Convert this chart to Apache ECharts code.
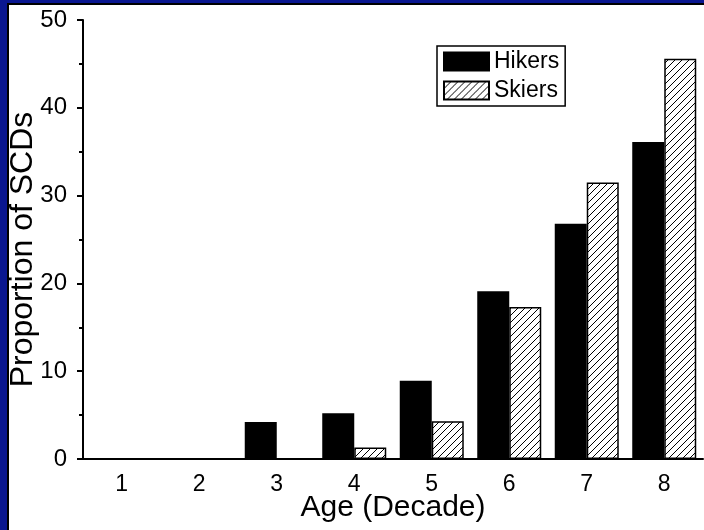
<!DOCTYPE html>
<html>
<head>
<meta charset="utf-8">
<script src="https://cdn.jsdelivr.net/npm/echarts@6/dist/echarts.min.js"></script>
<style>
html,body{margin:0;padding:0;width:704px;height:530px;overflow:hidden;background:#0a1790;}
#frame{position:absolute;left:7px;top:3px;width:697px;height:527px;background:#fff;border-top:2px solid #000;border-left:2px solid #000;box-sizing:border-box;}
#chart{position:absolute;left:0;top:0;width:704px;height:530px;}
</style>
</head>
<body>
<div id="frame"></div>
<div id="chart"></div>
<script>
const categories = ['1','2','3','4','5','6','7','8'];
const hikers = [0, 0, 4.2, 5.2, 8.9, 19.1, 26.8, 36.1];
const skiers = [0, 0, 0, 1.3, 4.3, 17.3, 31.5, 45.6];
const yTicks = [0, 10, 20, 30, 40, 50];

function hatch(){
  const c = document.createElement('canvas');
  const s = 7;
  c.width = s; c.height = s;
  const g = c.getContext('2d');
  g.fillStyle = '#fff'; g.fillRect(0,0,s,s);
  g.strokeStyle = '#000'; g.lineWidth = 1;
  g.beginPath();
  g.moveTo(-1, s+1); g.lineTo(s+1, -1);
  g.moveTo(-1, 1); g.lineTo(1, -1);
  g.moveTo(s-1, s+1); g.lineTo(s+1, s-1);
  g.stroke();
  return c;
}

const chart = echarts.init(document.getElementById('chart'));
const font = '"Liberation Sans", Arial, sans-serif';
chart.setOption({
  animation: false,
  grid: {left: 83, right: 1, top: 20, bottom: 71, containLabel: false, outerBoundsMode: 'none'},
  legend: {
    orient: 'vertical', left: 437, top: 46,
    padding: [4, 6, 4, 6], itemGap: 6,
    itemWidth: 45, itemHeight: 18,
    icon: 'rect',
    borderColor: '#000', borderWidth: 1.5,
    textStyle: {fontFamily: font, fontSize: 23, color: '#000'},
    data: ['Hikers', 'Skiers']
  },
  xAxis: [{
    type: 'category', data: categories, position: 'bottom',
    boundaryGap: true,
    name: 'Age (Decade)', nameLocation: 'middle', nameGap: 34, nameMoveOverlap: false,
    nameTextStyle: {fontFamily: font, fontSize: 30, color: '#000'},
    axisLine: {lineStyle: {color: '#000', width: 2}},
    axisTick: {alignWithLabel: true, length: 7, lineStyle: {color: '#000', width: 2}},
    axisLabel: {fontFamily: font, fontSize: 23, color: '#000', margin: 14}
  }, {
    type: 'category', data: categories, position: 'bottom',
    boundaryGap: true,
    axisLine: {show: false},
    axisTick: {alignWithLabel: false, length: 4, lineStyle: {color: '#000', width: 2}},
    axisLabel: {show: false}
  }],
  yAxis: {
    type: 'value', min: yTicks[0], max: yTicks[yTicks.length-1], interval: 10,
    name: 'Proportion of SCDs', nameLocation: 'middle', nameGap: 44, nameMoveOverlap: false,
    nameTextStyle: {fontFamily: font, fontSize: 32, color: '#000', padding: [0, 20, 0, 0]},
    axisLine: {show: true, lineStyle: {color: '#000', width: 2}},
    axisTick: {show: true, length: 6, lineStyle: {color: '#000', width: 2}},
    minorTick: {show: true, splitNumber: 2, length: 4, lineStyle: {color: '#000', width: 2}},
    splitLine: {show: false},
    axisLabel: {fontFamily: font, fontSize: 24, color: '#000', margin: 16}
  },
  series: [{
    name: 'Hikers', type: 'bar', data: hikers, barWidth: 32, barGap: '0%',
    itemStyle: {color: '#000', borderColor: '#000', borderWidth: 1.5}
  }, {
    name: 'Skiers', type: 'bar', data: skiers, barWidth: 32, barGap: '0%',
    itemStyle: {color: {image: hatch(), repeat: 'repeat'}, borderColor: '#000', borderWidth: 1.5}
  }]
});
</script>
</body>
</html>
